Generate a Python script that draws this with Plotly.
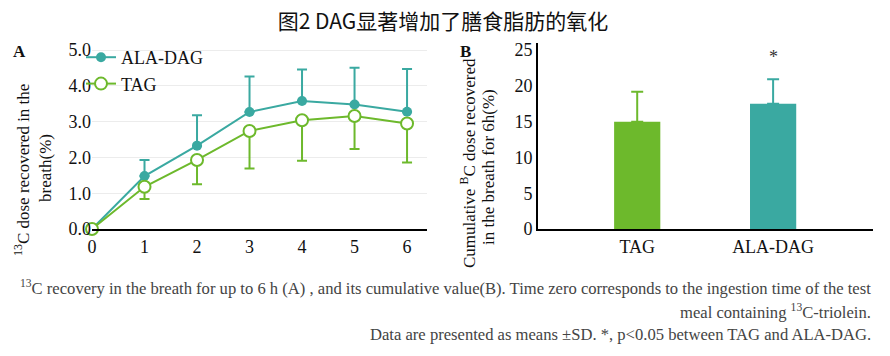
import plotly.graph_objects as go

# ---- data ----
hours = [0, 1, 2, 3, 4, 5, 6]
ala_dag = [0, 1.48, 2.33, 3.27, 3.58, 3.48, 3.28]
ala_dag_sd = [0, 0.45, 0.85, 0.99, 0.88, 1.03, 1.19]
tag = [0, 1.18, 1.93, 2.74, 3.04, 3.16, 2.95]
tag_sd = [0, 0.34, 0.68, 1.05, 1.13, 0.92, 1.09]

groups = ["TAG", "ALA-DAG"]
cumulative = [15.0, 17.5]
cumulative_sd = [4.2, 3.45]
y_ticks_a = [0, 1, 2, 3, 4, 5]
y_ticks_b = [0, 5, 10, 15, 20, 25]

GREEN = "#6DB92C"
TEAL = "#3AA9A1"
SERIF = "Liberation Serif, Times New Roman, serif"
TXT = "#111111"

W, H = 890, 356
OFF = 8  # page body margin


def px(x):
    return (x - OFF) / W


def py(y):
    return 1 - (y - OFF) / H


fig = go.Figure()

fig.add_trace(go.Scatter(
    x=hours, y=ala_dag, name="ALA-DAG", mode="lines+markers",
    legendgroup="a",
    line=dict(color=TEAL, width=2),
    marker=dict(color=TEAL, size=10),
    error_y=dict(type="data", symmetric=False, array=ala_dag_sd,
                 arrayminus=[0] * len(hours), color=TEAL, thickness=2, width=5),
    cliponaxis=False, xaxis="x", yaxis="y",
))
fig.add_trace(go.Scatter(
    x=hours, y=tag, name="TAG", mode="lines+markers",
    legendgroup="b",
    line=dict(color=GREEN, width=2),
    marker=dict(color="white", size=12, line=dict(color=GREEN, width=2)),
    error_y=dict(type="data", symmetric=False, array=[0] * len(hours),
                 arrayminus=tag_sd, color=GREEN, thickness=2, width=5),
    cliponaxis=False, xaxis="x", yaxis="y",
))

bar_colors = [GREEN, TEAL]
for g, v, sd, c in zip(groups, cumulative, cumulative_sd, bar_colors):
    fig.add_trace(go.Bar(
        x=[g], y=[v], marker=dict(color=c, line=dict(width=0)), width=0.34,
        showlegend=False,
        error_y=dict(type="data", symmetric=False, array=[sd], arrayminus=[0],
                     color=c, thickness=2, width=6),
        xaxis="x2", yaxis="y2",
    ))

tickf = dict(family=SERIF, size=18, color=TXT)
common = dict(automargin=False, zeroline=False, ticks="", tickfont=tickf)

fig.update_layout(
    template="none",
    width=W, height=H, margin=dict(l=0, r=0, t=0, b=0, pad=0, autoexpand=False),
    paper_bgcolor="white", plot_bgcolor="white",
    font=dict(family=SERIF, size=17, color=TXT),
    barmode="overlay",
    showlegend=True,
    legend=dict(x=73 / W, y=1 - 31 / H, xanchor="left", yanchor="top",
                bgcolor="rgba(0,0,0,0)", font=dict(family=SERIF, size=18, color=TXT),
                traceorder="normal", tracegroupgap=4, itemwidth=30),
    xaxis=dict(domain=[px(92), px(427)], range=[0, 6.38], tickvals=hours,
               showgrid=False, showline=True, linecolor="black", linewidth=2,
               anchor="y", **common),
    yaxis=dict(domain=[py(229), py(43)], range=[0, 5.2], tickvals=y_ticks_a,
               tickformat=".1f", showgrid=True, gridcolor="#ececec", gridwidth=1,
               showline=False, anchor="x", **common),
    xaxis2=dict(domain=[px(538), px(873)], range=[-0.73, 1.735],
                categoryorder="array", categoryarray=groups,
                showgrid=False, showline=True, linecolor="black", linewidth=2,
                anchor="y2", **common),
    yaxis2=dict(domain=[py(229), py(43)], range=[0, 26], tickvals=y_ticks_b,
                showgrid=False, showline=True, linecolor="black", linewidth=2,
                anchor="x2", **common),
    title=dict(text="图2 DAG显著增加了膳食脂肪的氧化", x=px(443), xanchor="center",
               y=1 - 14 / H, yanchor="middle", xref="paper", yref="container",
               font=dict(family="Noto Sans CJK SC", size=21, color=TXT)),
)


def paper_text(text, x, y, size=18, angle=0, xanchor="center", color=TXT):
    fig.add_annotation(xref="paper", yref="paper", x=px(x), y=py(y),
                       xanchor=xanchor, yanchor="middle", showarrow=False,
                       text=text, textangle=angle,
                       font=dict(family=SERIF, size=size, color=color))


paper_text("<b>A</b>", 19, 52, size=17)
paper_text("<b>B</b>", 466, 52, size=17)

# axis titles
paper_text("<sup>13</sup>C dose recovered in the", 22, 170, size=17, angle=-90)
paper_text("breath(%)", 45, 168, size=17, angle=-90)
paper_text("Cumulative <sup>B</sup>C dose recovered", 468, 163, size=17, angle=-90)
paper_text("in the breath for 6h(%)", 489, 167, size=17, angle=-90)

fig.add_annotation(x="ALA-DAG", y=24.0, xref="x2", yref="y2", text="*",
                   showarrow=False, font=dict(family=SERIF, size=18, color="#333"))

caption = [
    ("<sup>13</sup>C recovery in the breath for up to 6 h (A) , and its cumulative value(B). "
     "Time zero corresponds to the ingestion time of the test", 287),
    ("meal containing <sup>13</sup>C-triolein.", 311),
    ("Data are presented as means ±SD. *, p&lt;0.05 between TAG and ALA-DAG.", 334),
]
for txt, yp in caption:
    paper_text(txt, 873, yp, size=16.6, xanchor="right", color="#444444")

fig.write_html("out.html")
